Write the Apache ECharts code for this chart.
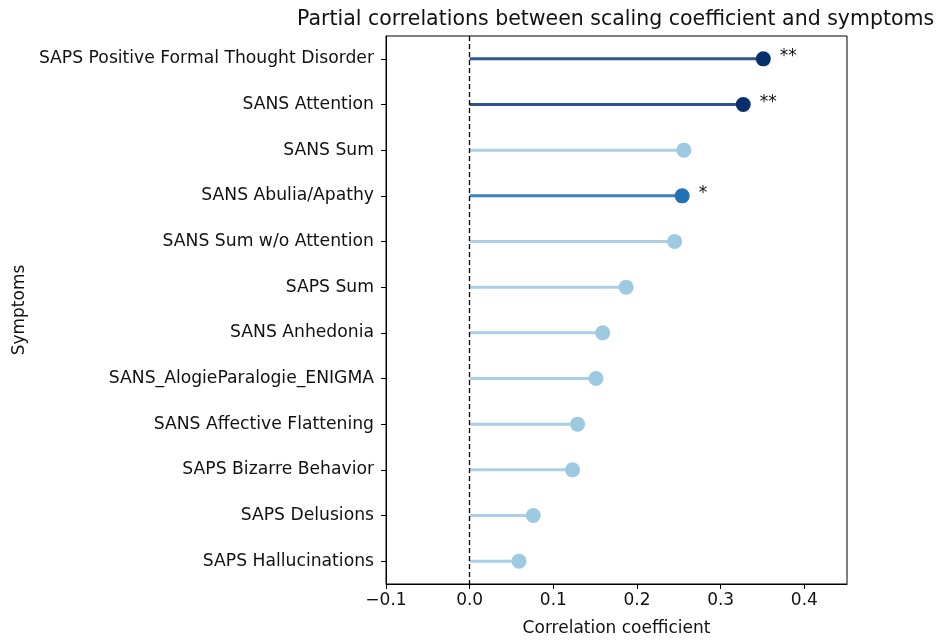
<!DOCTYPE html>
<html>
<head>
<meta charset="utf-8">
<script src="https://cdn.jsdelivr.net/npm/echarts@6/dist/echarts.min.js"></script>
<style>
  html, body { margin: 0; padding: 0; background: #fff; }
  #chart { width: 940px; height: 640px; }
</style>
</head>
<body>
<div id="chart"></div>
<script>
const symptoms = [
  "SAPS Positive Formal Thought Disorder",
  "SANS Attention",
  "SANS Sum",
  "SANS Abulia/Apathy",
  "SANS Sum w/o Attention",
  "SAPS Sum",
  "SANS Anhedonia",
  "SANS_AlogieParalogie_ENIGMA",
  "SANS Affective Flattening",
  "SAPS Bizarre Behavior",
  "SAPS Delusions",
  "SAPS Hallucinations",
];
const coefficients = [0.351, 0.327, 0.256, 0.254, 0.245, 0.187, 0.159, 0.151, 0.129, 0.123, 0.076, 0.059];
const significance = ["**", "**", "", "*", "", "", "", "", "", "", "", ""];
const xTicks = [-0.1, 0.0, 0.1, 0.2, 0.3, 0.4];

const FONT = "DejaVu Sans";

function dotColor(sig) {
  if (sig === "**") return "#08306b";
  if (sig === "*") return "#2171b5";
  return "#9ecae1";
}
function stemColor(sig) {
  if (sig === "**") return "#2f5590";
  if (sig === "*") return "#3a82c2";
  return "#a9d0e6";
}

const stemData = coefficients.map((v, i) => ({
  value: v,
  itemStyle: { color: stemColor(significance[i]) },
}));
const dotData = coefficients.map((v, i) => ({
  value: [v, symptoms[i]],
  itemStyle: { color: dotColor(significance[i]), opacity: 1 },
  label: { formatter: significance[i] },
}));

const chart = echarts.init(document.getElementById("chart"));
chart.setOption({
  animation: false,
  textStyle: { fontFamily: FONT },
  title: {
    text: "Partial correlations between scaling coefficient and symptoms",
    left: 292,
    top: 4,
    textStyle: { fontFamily: FONT, fontSize: 20.5, fontWeight: "normal", color: "#111" },
  },
  grid: {
    left: 386, right: 93, top: 36, bottom: 56,
    outerBoundsMode: "none",
    show: true, borderColor: "#000", borderWidth: 1,
  },
  xAxis: {
    type: "value",
    min: -0.1,
    max: 0.451,
    interval: 0.1,
    name: "Correlation coefficient",
    nameLocation: "middle",
    nameGap: 36,
    nameTextStyle: { fontFamily: FONT, fontSize: 17, color: "#111" },
    axisLine: { show: true, onZero: false, lineStyle: { color: "#000", width: 1 } },
    axisTick: { show: true, length: 5, lineStyle: { color: "#000" }, customValues: xTicks },
    axisLabel: {
      fontFamily: FONT, fontSize: 17, color: "#111", margin: 8,
      customValues: xTicks,
      formatter: (v) => v.toFixed(1).replace("-", "\u2212"),
    },
    splitLine: { show: false },
  },
  yAxis: {
    type: "category",
    data: symptoms,
    inverse: true,
    name: "Symptoms",
    nameLocation: "middle",
    nameGap: 358,
    nameTextStyle: { fontFamily: FONT, fontSize: 17, color: "#111" },
    axisLine: { show: true, onZero: false, lineStyle: { color: "#000", width: 1 } },
    axisTick: { show: true, alignWithLabel: true, length: 5, lineStyle: { color: "#000" } },
    axisLabel: { fontFamily: FONT, fontSize: 17.2, color: "#111", margin: 12 },
    splitLine: { show: false },
  },
  series: [
    {
      type: "bar",
      data: stemData,
      barWidth: 3,
      silent: true,
      markLine: {
        silent: true,
        symbol: ["none", "none"],
        label: { show: false },
        lineStyle: { color: "#000", type: [5, 3], width: 1.3 },
        data: [{ xAxis: 0 }],
      },
    },
    {
      type: "scatter",
      data: dotData,
      symbolSize: 15,
      z: 5,
      label: {
        show: true,
        position: "right",
        distance: 9,
        offset: [0, -2],
        fontFamily: FONT,
        fontSize: 17,
        color: "#111",
      },
    },
  ],
});
</script>
</body>
</html>
